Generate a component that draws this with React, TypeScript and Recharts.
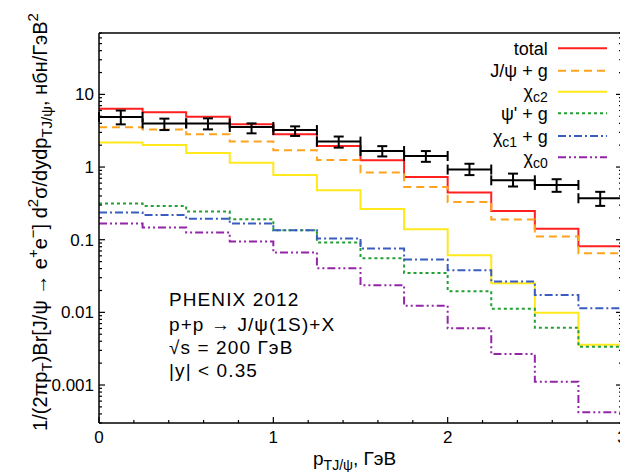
import React from "react";
import { ComposedChart, Line, Scatter, ErrorBar, XAxis, YAxis } from "recharts";

// bin edges of the pT histograms (GeV)
const binEdges = [0, 0.25, 0.5, 0.75, 1, 1.25, 1.5, 1.75, 2, 2.25, 2.5, 2.75, 3];

// model contributions, one value per bin
const total = [6.36, 5.7, 4.93, 3.87, 2.82, 1.95, 1.24, 0.73, 0.446, 0.249, 0.142, 0.0814];
const jpsiG = [3.52, 3.3, 2.82, 2.24, 1.7, 1.25, 0.84, 0.53, 0.33, 0.19, 0.111, 0.065];
const chiC2 = [2.17, 2.01, 1.56, 1.15, 0.78, 0.479, 0.265, 0.139, 0.0612, 0.0252, 0.0099, 0.00358];
const psiPrimeG = [0.314, 0.292, 0.244, 0.191, 0.135, 0.0916, 0.0557, 0.0347, 0.0196, 0.0112, 0.00614, 0.00337];
const chiC1G = [0.2365, 0.219, 0.195, 0.167, 0.135, 0.104, 0.0756, 0.0534, 0.0381, 0.0266, 0.0174, 0.0114];
const chiC0 = [0.167, 0.147, 0.126, 0.0945, 0.0667, 0.0406, 0.0237, 0.0123, 0.00602, 0.00267, 0.00111, 0.000422];

// PHENIX 2012 points
const phenixPt = [0.125, 0.375, 0.625, 0.875, 1.125, 1.375, 1.625, 1.875, 2.125, 2.375, 2.625, 2.875];
const phenixPtErr = [0.125, 0.125, 0.125, 0.125, 0.125, 0.125, 0.125, 0.125, 0.125, 0.125, 0.125, 0.125];
const phenixY = [4.88, 3.99, 3.99, 3.56, 3.23, 2.24, 1.66, 1.42, 0.924, 0.657, 0.567, 0.372];
const phenixLow = [3.87, 3.23, 3.3, 2.91, 2.68, 1.85, 1.4, 1.18, 0.775, 0.54, 0.456, 0.292];
const phenixHigh = [6.0, 4.64, 4.68, 3.99, 3.63, 2.63, 1.94, 1.66, 1.11, 0.812, 0.68, 0.456];

const xTicks = [0, 0.2, 0.4, 0.6, 0.8, 1, 1.2, 1.4, 1.6, 1.8, 2, 2.2, 2.4, 2.6, 2.8, 3];
const xMajor = [0, 1, 2, 3];
const yMajor = [0.001, 0.01, 0.1, 1, 10];
const yMajorLabels = ["0.001", "0.01", "0.1", "1", "10"];
const yMinorMult = [2, 3, 4, 5, 6, 7, 8, 9];
const yDomain: [number, number] = [0.0003, 70];

const series = [
  { key: "total", name: "total", color: "#ff2020", dash: undefined as string | undefined, values: total },
  { key: "jpsiG", name: "J/ψ + g", color: "#ffa21e", dash: "8 5", values: jpsiG },
  { key: "chiC2", name: "χc2", color: "#ffe81c", dash: undefined, values: chiC2 },
  { key: "psiPrimeG", name: "ψ' + g", color: "#22a033", dash: "3 3", values: psiPrimeG },
  { key: "chiC1G", name: "χc1 + g", color: "#3a5cc0", dash: "8 3 2 3", values: chiC1G },
  { key: "chiC0", name: "χc0", color: "#9425a8", dash: "8 3 2 3 2 3", values: chiC0 },
];

const histRows = binEdges.map((pt, i) => {
  const row: Record<string, number> = { pt };
  series.forEach((s) => {
    row[s.key] = s.values[Math.min(i, s.values.length - 1)];
  });
  return row;
});

const pointRows = phenixPt.map((pt, i) => ({
  pt,
  y: phenixY[i],
  ex: phenixPtErr[i],
  ey: [phenixY[i] - phenixLow[i], phenixHigh[i] - phenixY[i]],
}));

const yTicks: number[] = [];
[0.0001, 0.001, 0.01, 0.1, 1, 10].forEach((d) => {
  if (d >= yDomain[0]) yTicks.push(d);
  yMinorMult.forEach((m) => {
    const v = +(d * m).toPrecision(3);
    if (v >= yDomain[0] && v <= yDomain[1]) yTicks.push(v);
  });
});

const isXMajor = (v: number) => xMajor.some((m) => Math.abs(m - v) < 1e-9);
const yMajorIndex = (v: number) => yMajor.findIndex((m) => Math.abs(m - v) / m < 1e-6);

const FONT = "'Liberation Sans', Arial, Helvetica, sans-serif";

const BottomTick = (props: any) => {
  const { x, y, payload } = props;
  const major = isXMajor(payload.value);
  return (
    <g>
      <line x1={x} y1={y} x2={x} y2={y - (major ? 6 : 3)} stroke="#000" strokeWidth={1.2} />
      {major && (
        <text x={x} y={y + 20} textAnchor="middle" fontSize={17} fontFamily={FONT} fill="#000">
          {payload.value}
        </text>
      )}
    </g>
  );
};

const TopTick = (props: any) => {
  const { x, y, payload } = props;
  const major = isXMajor(payload.value);
  return <line x1={x} y1={y} x2={x} y2={y + (major ? 6 : 3)} stroke="#000" strokeWidth={1.2} />;
};

const LeftTick = (props: any) => {
  const { x, y, payload } = props;
  const idx = yMajorIndex(payload.value);
  return (
    <g>
      <line x1={x} y1={y} x2={x + (idx >= 0 ? 6 : 3)} y2={y} stroke="#000" strokeWidth={1.2} />
      {idx >= 0 && (
        <text x={x - 5} y={y + 6} textAnchor="end" fontSize={17} fontFamily={FONT} fill="#000">
          {yMajorLabels[idx]}
        </text>
      )}
    </g>
  );
};

const RightTick = (props: any) => {
  const { x, y, payload } = props;
  const major = yMajorIndex(payload.value) >= 0;
  return <line x1={x} y1={y} x2={x - (major ? 6 : 3)} y2={y} stroke="#000" strokeWidth={1.2} />;
};

const NoDot = () => <g />;

const axisLine = { stroke: "#000", strokeWidth: 1.5 };

const legendRows = [40.3, 62.7, 83.7, 105.3, 128, 149.3];

const LegendLabel = ({ name, y }: { name: string; y: number }) => {
  const m = name.match(/^χ(c\d)(.*)$/);
  if (m) {
    return (
      <text x={539.7} y={y + 6.5} textAnchor="end" fontSize={18} fontFamily={FONT} fill="#000">
        χ
        <tspan fontSize={14} dy={4}>
          {m[1]}
        </tspan>
        <tspan dy={-4}>{m[2]}</tspan>
      </text>
    );
  }
  return (
    <text x={539.7} y={y + 6.5} textAnchor="end" fontSize={18} fontFamily={FONT} fill="#000">
      {name}
    </text>
  );
};

const annotation = ["PHENIX 2012", "p+p → J/ψ(1S)+X", "√s = 200 ГэВ", "|y| < 0.35"];
const annotationBaselines = [298, 322.7, 346, 368.7];

export default function App() {
  return (
    <div style={{ position: "relative", width: 620, height: 464, fontFamily: FONT }}>
      <ComposedChart width={620} height={464} margin={{ top: 20, right: 1, bottom: 9, left: 31 }}>
        <XAxis
          xAxisId="b"
          dataKey="pt"
          type="number"
          domain={[0, 3]}
          allowDataOverflow
          ticks={xTicks}
          interval={0}
          tick={<BottomTick />}
          tickLine={false}
          tickSize={0}
          tickMargin={0}
          axisLine={axisLine}
          height={40}
        />
        <XAxis
          xAxisId="t"
          orientation="top"
          type="number"
          domain={[0, 3]}
          allowDataOverflow
          ticks={xTicks}
          interval={0}
          tick={<TopTick />}
          tickLine={false}
          tickSize={0}
          tickMargin={0}
          axisLine={axisLine}
          height={5}
        />
        <YAxis
          yAxisId="l"
          type="number"
          scale="log"
          domain={yDomain}
          allowDataOverflow
          ticks={yTicks}
          interval={0}
          tick={<LeftTick />}
          tickLine={false}
          tickSize={0}
          tickMargin={0}
          axisLine={axisLine}
          width={60}
        />
        <YAxis
          yAxisId="r"
          orientation="right"
          type="number"
          scale="log"
          domain={yDomain}
          allowDataOverflow
          ticks={yTicks}
          interval={0}
          tick={<RightTick />}
          tickLine={false}
          tickSize={0}
          tickMargin={0}
          axisLine={axisLine}
          width={5}
        />
        {series.map((s) => (
          <Line
            key={s.key}
            xAxisId="b"
            yAxisId="l"
            data={histRows}
            dataKey={s.key}
            name={s.name}
            type="stepAfter"
            stroke={s.color}
            strokeWidth={2}
            strokeDasharray={s.dash}
            dot={false}
            activeDot={false}
            isAnimationActive={false}
          />
        ))}
        <Scatter
          xAxisId="b"
          yAxisId="l"
          data={pointRows}
          dataKey="y"
          name="PHENIX 2012"
          shape={<NoDot />}
          isAnimationActive={false}
        >
          <ErrorBar dataKey="ex" direction="x" width={5} stroke="#000" strokeWidth={2} isAnimationActive={false} />
          <ErrorBar dataKey="ey" direction="y" width={5} stroke="#000" strokeWidth={2} isAnimationActive={false} />
        </Scatter>
      </ComposedChart>
      <svg
        width={620}
        height={464}
        style={{ position: "absolute", left: 0, top: 0, pointerEvents: "none" }}
      >
        {series.map((s, i) => (
          <g key={s.key}>
            <LegendLabel name={s.name} y={legendRows[i]} />
            <line
              x1={550}
              x2={599}
              y1={legendRows[i]}
              y2={legendRows[i]}
              stroke={s.color}
              strokeWidth={2}
              strokeDasharray={s.dash}
            />
          </g>
        ))}
        {annotation.map((t, i) => (
          <text
            key={t}
            x={161}
            y={annotationBaselines[i]}
            fontSize={19}
            letterSpacing={1.1}
            fontFamily={FONT}
            fill="#000"
          >
            {t}
          </text>
        ))}
        <text x={305} y={457} fontSize={19} fontFamily={FONT} fill="#000">
          p
          <tspan fontSize={14} dy={5}>
            TJ/ψ
          </tspan>
          <tspan dy={-5}>, ГэВ</tspan>
        </text>
        <text
          transform="translate(39, 214) rotate(-90)"
          textAnchor="middle"
          fontSize={20}
          fontFamily={FONT}
          fill="#000"
        >
          1/(2πp
          <tspan fontSize={15} dy={5}>T</tspan>
          <tspan dy={-5}>)Br[J/ψ → e</tspan>
          <tspan fontSize={15} dy={-9}>+</tspan>
          <tspan dy={9}>e</tspan>
          <tspan fontSize={15} dy={-9}>−</tspan>
          <tspan dy={9}>] d</tspan>
          <tspan fontSize={15} dy={-9}>2</tspan>
          <tspan dy={9}>σ/dydp</tspan>
          <tspan fontSize={15} dy={5}>TJ/ψ</tspan>
          <tspan dy={-5}>, нбн/ГэВ</tspan>
          <tspan fontSize={15} dy={-9}>2</tspan>
        </text>
      </svg>
    </div>
  );
}
